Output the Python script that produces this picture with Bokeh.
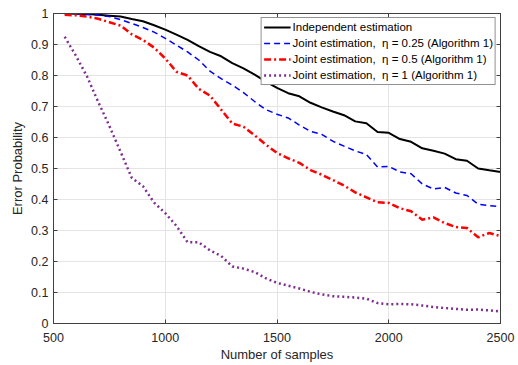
from bokeh.plotting import figure
from bokeh.models import Range1d, FixedTicker, LinearAxis, Legend, LegendItem, CustomLabelingPolicy
from bokeh.embed import file_html
from bokeh.resources import INLINE

samples = [550, 600, 650, 700, 750, 800, 850, 900, 950, 1000,
           1050, 1100, 1150, 1200, 1250, 1300, 1350, 1400, 1450, 1500,
           1550, 1600, 1650, 1700, 1750, 1800, 1850, 1900, 1950, 2000,
           2050, 2100, 2150, 2200, 2250, 2300, 2350, 2400, 2450, 2500]

independent = [1.0, 0.999, 0.998, 0.996, 0.993, 0.99, 0.982, 0.975, 0.962, 0.948,
               0.932, 0.915, 0.895, 0.876, 0.862, 0.84, 0.823, 0.803, 0.78, 0.76,
               0.743, 0.733, 0.712, 0.697, 0.684, 0.672, 0.652, 0.646, 0.618, 0.615,
               0.595, 0.586, 0.565, 0.557, 0.548, 0.53, 0.525, 0.5, 0.494, 0.489]

joint_025 = [1.0, 0.999, 0.997, 0.995, 0.99, 0.98, 0.968, 0.955, 0.94, 0.92,
             0.898, 0.876, 0.85, 0.814, 0.79, 0.769, 0.745, 0.716, 0.69, 0.675,
             0.663, 0.64, 0.62, 0.61, 0.588, 0.572, 0.557, 0.545, 0.505, 0.507,
             0.489, 0.483, 0.45, 0.434, 0.439, 0.421, 0.413, 0.385, 0.38, 0.377]

joint_05 = [0.996, 0.994, 0.99, 0.983, 0.972, 0.961, 0.933, 0.915, 0.89, 0.855,
            0.812, 0.8, 0.757, 0.735, 0.69, 0.645, 0.635, 0.607, 0.577, 0.55,
            0.533, 0.518, 0.495, 0.48, 0.463, 0.445, 0.423, 0.407, 0.391, 0.389,
            0.372, 0.362, 0.335, 0.342, 0.324, 0.311, 0.308, 0.278, 0.292, 0.282]

joint_1 = [0.925, 0.864, 0.797, 0.715, 0.637, 0.554, 0.47, 0.443, 0.39, 0.356,
           0.315, 0.262, 0.262, 0.236, 0.218, 0.184, 0.177, 0.166, 0.146, 0.131,
           0.122, 0.113, 0.102, 0.094, 0.088, 0.086, 0.084, 0.08, 0.066, 0.062,
           0.063, 0.062, 0.058, 0.053, 0.05, 0.047, 0.044, 0.045, 0.042, 0.039]

x_ticks = [500, 1000, 1500, 2000, 2500]
x_tick_labels = ["500", "1000", "1500", "2000", "2500"]
y_ticks = [0, 0.1, 0.2, 0.3, 0.4, 0.5, 0.6, 0.7, 0.8, 0.9, 1]
y_tick_labels = ["0", "0.1", "0.2", "0.3", "0.4", "0.5", "0.6", "0.7", "0.8", "0.9", "1"]

labels = ["Independent estimation",
          "Joint estimation,  \u03b7 = 0.25 (Algorithm 1)",
          "Joint estimation,  \u03b7 = 0.5 (Algorithm 1)",
          "Joint estimation,  \u03b7 = 1 (Algorithm 1)"]

FONT = "Liberation Sans"
TXT = "#262626"
AX = "#404040"

p = figure(width=518, height=365, output_backend="svg", toolbar_location=None,
           x_range=Range1d(500, 2500), y_range=Range1d(0, 1),
           min_border_left=53, min_border_right=18, min_border_top=13, min_border_bottom=42)
p.outline_line_color = AX
p.outline_line_width = 1
p.background_fill_color = "white"
p.border_fill_color = "white"

for ax, ticks, labs in ((p.xaxis[0], x_ticks, x_tick_labels), (p.yaxis[0], y_ticks, y_tick_labels)):
    ax.ticker = FixedTicker(ticks=ticks)
    ax.major_label_overrides = {t: l for t, l in zip(ticks, labs)}
    ax.major_tick_in = 4
    ax.major_tick_out = 0
    ax.minor_tick_in = 0
    ax.minor_tick_out = 0
    ax.axis_line_color = AX
    ax.major_tick_line_color = AX
    ax.major_label_text_font = FONT
    ax.major_label_text_font_size = "12.5px"
    ax.major_label_text_color = TXT
    ax.axis_label_text_font = FONT
    ax.axis_label_text_font_size = "13px"
    ax.axis_label_text_font_style = "normal"
    ax.axis_label_text_color = TXT

p.xaxis.axis_label = "Number of samples"
p.yaxis.axis_label = "Error Probability"
p.xaxis.major_label_standoff = 9
p.xaxis.axis_label_standoff = 2
p.yaxis.major_label_standoff = 5
p.yaxis.axis_label_standoff = 3

# box ticks on top and right (no labels drawn)
no_labels = CustomLabelingPolicy(code="return new indices.constructor(indices.size, 0)")
top = LinearAxis(ticker=FixedTicker(ticks=x_ticks), major_tick_in=4, major_tick_out=0,
                 minor_tick_in=0, minor_tick_out=0, major_label_policy=no_labels,
                 axis_line_color=AX, major_tick_line_color=AX, major_label_standoff=0)
right = LinearAxis(ticker=FixedTicker(ticks=y_ticks), major_tick_in=4, major_tick_out=0,
                   minor_tick_in=0, minor_tick_out=0, major_label_policy=no_labels,
                   axis_line_color=AX, major_tick_line_color=AX, major_label_standoff=0)
p.add_layout(top, "above")
p.add_layout(right, "right")

p.grid.grid_line_color = "#e4e4e4"
p.grid.grid_line_width = 1
p.xgrid.ticker = FixedTicker(ticks=x_ticks)
p.ygrid.ticker = FixedTicker(ticks=y_ticks)

r0 = p.line(samples, independent, line_color="black", line_width=2)
r1 = p.line(samples, joint_025, line_color="#0000ff", line_width=1.5, line_dash="6 4")
r2 = p.line(samples, joint_05, line_color="#ff0000", line_width=2.5, line_dash="7 3 2 3")
r3 = p.line(samples, joint_1, line_color="#7e2f8e", line_width=2.5, line_dash="2 3")

legend = Legend(items=[LegendItem(label=l, renderers=[r]) for l, r in zip(labels, [r0, r1, r2, r3])],
                location="top_right", margin=4, padding=2, spacing=2,
                label_height=14, glyph_height=14, glyph_width=27, label_standoff=2,
                label_text_font=FONT, label_text_font_size="11.5px", label_text_color="black",
                border_line_color="#262626", border_line_width=1,
                background_fill_color="white", background_fill_alpha=1)
p.add_layout(legend, "center")

open("out.html", "w").write(file_html(p, INLINE))
